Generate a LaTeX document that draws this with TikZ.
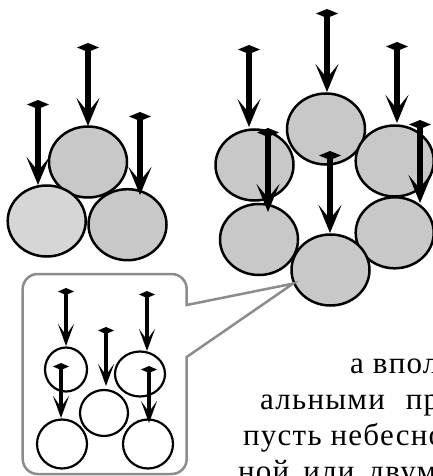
\documentclass[tikz,border=0pt]{standalone}
\usepackage{fontspec}
\newfontfamily\ruText{Liberation Serif}[LetterSpace=4]
\usetikzlibrary{arrows.meta,shapes.geometric}
\definecolor{ballgray}{HTML}{C8C8C8}
\definecolor{balllight}{HTML}{D6D6D6}
\definecolor{boxgray}{HTML}{8C8C8C}
\tikzset{
  bigball/.style={ellipse,draw=black,line width=2.5pt,fill=ballgray,inner sep=0pt,minimum width=78pt,minimum height=71pt},
  smallball/.style={ellipse,draw=black,line width=2.2pt,fill=white,inner sep=0pt},
  bigarrow/.style={line width=6pt,{Diamond[length=9pt,width=22pt]}-{Stealth[length=28pt,width=23pt,inset=14pt]}},
  smallarrow/.style={line width=3.5pt,{Diamond[length=7pt,width=16pt]}-{Stealth[length=22pt,width=16pt,inset=11pt]}},
  bubble/.style={draw=boxgray,line width=2.5pt,fill=white},
  textline/.style={anchor=base west,inner sep=0pt,font=\ruText\fontsize{31}{36}\selectfont}
}
\begin{document}
\begin{tikzpicture}[x=1pt,y=-1pt]
    \useasboundingbox (0,0) rectangle (433,476);
    \clip (0,0) rectangle (433,476);
    % left heap
    \node[bigball] (l1) at (88,162) {};
    \node[bigball,fill=balllight] (l2) at (46.7,221) {};
    \node[bigball] (l3) at (127.5,224.7) {};
    % right ring
    \node[bigball] (r1) at (326,129) {};
    \node[bigball] (r2) at (254.5,165) {};
    \node[bigball] (r3) at (394.7,161) {};
    \node[bigball] (r4) at (259,239.5) {};
    \node[bigball] (r5) at (394.7,232.8) {};
    \node[bigball] (r6) at (330.5,270) {};
    % arrow ends
    \coordinate (la) at (88,43);   \coordinate (lb) at (88,126);
    \coordinate (lc) at (38,100);  \coordinate (ld) at (38,185);
    \coordinate (le) at (140,112); \coordinate (lf) at (140,195);
    \coordinate (ra) at (249,45);  \coordinate (rb) at (249,127);
    \coordinate (rc) at (327,9);   \coordinate (rd) at (327,92);
    \coordinate (re) at (397,42);  \coordinate (rf) at (397,123);
    \coordinate (rg) at (268,128); \coordinate (rh) at (268,212);
    \coordinate (ri) at (330,151); \coordinate (rj) at (330,233);
    \coordinate (rk) at (420,120); \coordinate (rl) at (420,203);
    \draw[bigarrow] (la) -- (lb);
    \draw[bigarrow] (lc) -- (ld);
    \draw[bigarrow] (le) -- (lf);
    \draw[bigarrow] (ra) -- (rb);
    \draw[bigarrow] (rc) -- (rd);
    \draw[bigarrow] (re) -- (rf);
    \draw[bigarrow] (rg) -- (rh);
    \draw[bigarrow] (ri) -- (rj);
    \draw[bigarrow] (rk) -- (rl);
    % callout box
    \coordinate (tip) at (r6.200);
    \draw[bubble] (186.7,357) [rounded corners=15pt] -- (186.7,474) -- (22.7,474) -- (22.7,274) -- (186.7,274) [sharp corners] -- (186.7,305) -- (tip) -- cycle;
    \node[smallball,minimum width=42pt,minimum height=44pt] (s1) at (66,369.5) {};
    \node[smallball,minimum width=50pt,minimum height=45pt] (s2) at (140,374) {};
    \node[smallball,minimum width=48pt,minimum height=46pt] (s3) at (104,413) {};
    \node[smallball,minimum width=50pt,minimum height=49pt] (s4) at (62,444) {};
    \node[smallball,minimum width=50pt,minimum height=49pt] (s5) at (148,444) {};
    \coordinate (sa) at (66,288);  \coordinate (sb) at (66,346);
    \coordinate (sc) at (147,291); \coordinate (sd) at (147,351);
    \coordinate (se) at (106,327); \coordinate (sf) at (106,386);
    \coordinate (sg) at (61,363);  \coordinate (sh) at (61,418);
    \coordinate (si) at (149,366); \coordinate (sj) at (149,423);
    \draw[smallarrow] (sa) -- (sb);
    \draw[smallarrow] (sc) -- (sd);
    \draw[smallarrow] (se) -- (sf);
    \draw[smallarrow] (sg) -- (sh);
    \draw[smallarrow] (si) -- (sj);
    % text
    \node[textline] (t1) at (350,373) {а впол};
    \node[textline] (t2) at (260,409) {альными\hspace{12pt} пр};
    \node[textline] (t3) at (243,445) {пусть небесно};
    \node[textline] (t4) at (238,481) {ной\hspace{5pt} или\hspace{5pt} двум};
\end{tikzpicture}
\end{document}
